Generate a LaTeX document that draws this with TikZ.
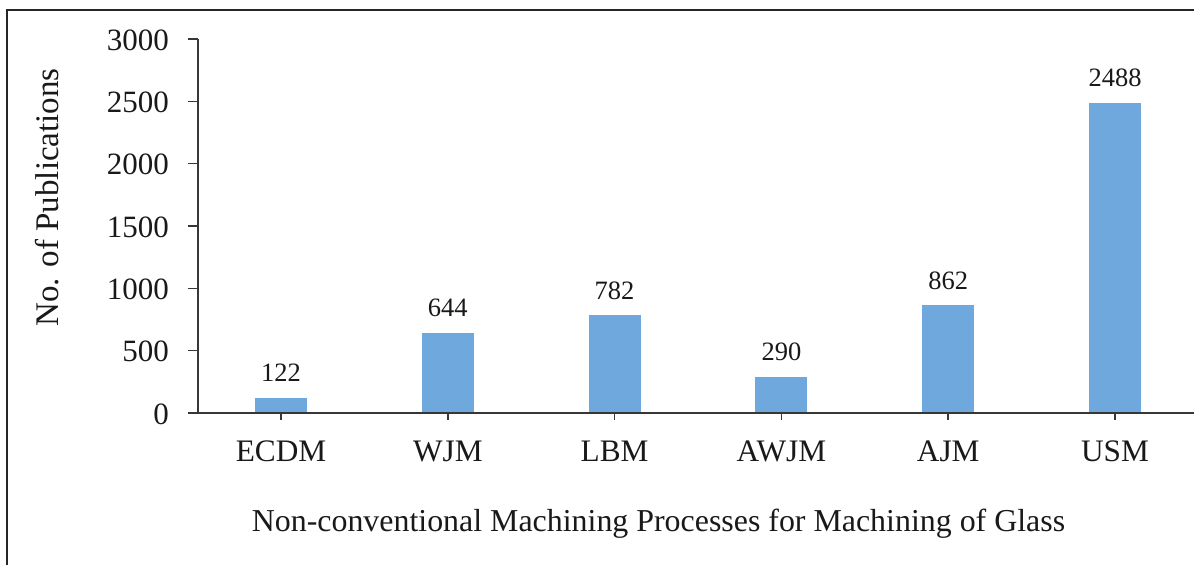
\documentclass[tikz,border=0pt]{standalone}
\usepackage{fontspec}
\setmainfont{Liberation Serif}
\definecolor{barblue}{RGB}{111,168,220}
\definecolor{axisgray}{RGB}{55,55,55}
\tikzset{
  bar/.style={fill=barblue, draw=none, minimum width=52pt, inner sep=0pt, anchor=south},
  vallabel/.style={anchor=base, inner sep=0pt, font=\fontsize{26.5}{30}\selectfont, text=black!90},
  ticklabel/.style={anchor=base east, inner sep=0pt, font=\fontsize{31}{36}\selectfont, text=black!90},
  catlabel/.style={anchor=base, inner sep=0pt, font=\fontsize{31.3}{36}\selectfont, text=black!90},
  axistitle/.style={anchor=base, inner sep=0pt, font=\fontsize{31.9}{36}\selectfont, text=black!90},
  axisline/.style={draw=axisgray, line width=1.5pt},
  frameline/.style={draw=black!85, line width=2pt}
}
\begin{document}
\begin{tikzpicture}[x=1pt,y=-1pt]
  \useasboundingbox (0,0) rectangle (1194,565);
  \fill[white] (0,0) rectangle (1194,565);

  % outer frame (top and left edges)
  \coordinate (fTL) at (7,10);
  \coordinate (fTR) at (1194,10);
  \coordinate (fBL) at (7,565);
  \draw[frameline] (fTR) -- (fTL) -- (fBL);

  % axes
  \coordinate (origin) at (198,413);
  \coordinate (ytop) at (198,39);
  \coordinate (xstart) at (188,413);
  \coordinate (xend) at (1194,413);

  % bars with value labels (374pt of axis per 3000 publications)
  \foreach \name/\val/\i in {ECDM/122/0, WJM/644/1, LBM/782/2, AWJM/290/3, AJM/862/4, USM/2488/5} {
    \pgfmathsetmacro{\cx}{281+166.8*\i}
    \pgfmathsetmacro{\h}{\val*0.124667}
    \node[bar, minimum height=\h pt] (b\name) at (\cx,413) {};
    \node[vallabel] (v\name) at ([yshift=16pt]b\name.north) {\val};
    \coordinate (t\name) at (\cx,413);
    \coordinate (tb\name) at (\cx,420);
    \node[catlabel] (c\name) at (\cx,461.5) {\name};
  }

  \draw[axisline] (ytop) -- (origin);
  \draw[axisline] (xstart) -- (xend);

  % y ticks and labels
  \foreach \v in {0,500,1000,1500,2000,2500,3000} {
    \pgfmathsetmacro{\yy}{413-\v*0.124667}
    \coordinate (ya\v) at (188,\yy);
    \coordinate (yb\v) at (198,\yy);
    \draw[axisline] (ya\v) -- (yb\v);
    \node[ticklabel] (yl\v) at (169,\yy+11) {\v};
  }

  % x ticks
  \foreach \name in {ECDM,WJM,LBM,AWJM,AJM,USM} {
    \draw[axisline] (t\name) -- (tb\name);
  }

  % axis titles
  \node[axistitle] (xtitle) at (658.5,531) {Non-conventional Machining Processes for Machining of Glass};
  \node[axistitle, rotate=90, font=\fontsize{33}{38}\selectfont] (ytitle) at (58,197.5) {No. of Publications};
\end{tikzpicture}
\end{document}
